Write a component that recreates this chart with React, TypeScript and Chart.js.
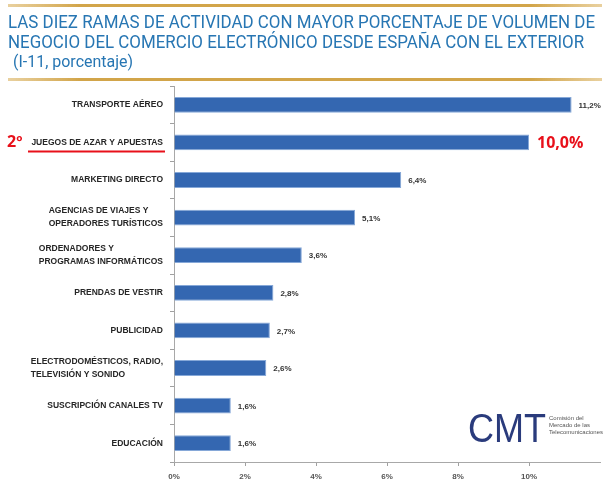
import { useEffect, useRef } from "react";
import { Chart, registerables } from "chart.js";

Chart.register(...registerables);

const titleLines = [
  "LAS DIEZ RAMAS DE ACTIVIDAD CON MAYOR PORCENTAJE DE VOLUMEN DE",
  "NEGOCIO DEL COMERCIO ELECTRÓNICO DESDE ESPAÑA CON EL EXTERIOR",
];
const subtitleText = "(I-11, porcentaje)";

const categories: string[][] = [
  ["TRANSPORTE AÉREO"],
  ["JUEGOS DE AZAR Y APUESTAS"],
  ["MARKETING DIRECTO"],
  ["AGENCIAS DE VIAJES Y", "OPERADORES TURÍSTICOS"],
  ["ORDENADORES Y", "PROGRAMAS INFORMÁTICOS"],
  ["PRENDAS DE VESTIR"],
  ["PUBLICIDAD"],
  ["ELECTRODOMÉSTICOS, RADIO,", "TELEVISIÓN Y SONIDO"],
  ["SUSCRIPCIÓN CANALES TV"],
  ["EDUCACIÓN"],
];
const values = [11.2, 10.0, 6.4, 5.1, 3.6, 2.8, 2.7, 2.6, 1.6, 1.6];
const valueLabels = ["11,2%", "10,0%", "6,4%", "5,1%", "3,6%", "2,8%", "2,7%", "2,6%", "1,6%", "1,6%"];
const highlightIndex = 1;
const highlightRank = "2º";
const xMin = 0;
const xMax = 12;
const xStep = 2;
const logoText = "CMT";
const logoSubLines = ["Comisión del", "Mercado de las", "Telecomunicaciones"];

const LABEL_FONT = "bold 8.5px 'Liberation Sans'";
const VALUE_FONT = "bold 8px 'Liberation Sans'";

const decorPlugin = {
  id: "decor",
  beforeDraw(chart: any) {
    const ctx = chart.ctx as CanvasRenderingContext2D;
    ctx.save();
    const drawRule = (y: number) => {
      const g = ctx.createLinearGradient(8, 0, 602, 0);
      g.addColorStop(0, "rgba(214,170,80,0.55)");
      g.addColorStop(0.12, "#d2a54a");
      g.addColorStop(0.88, "#d2a54a");
      g.addColorStop(1, "rgba(214,170,80,0.55)");
      ctx.fillStyle = g;
      ctx.fillRect(8, y, 594, 3);
    };
    drawRule(4);
    drawRule(78);
    ctx.fillStyle = "#2776b3";
    ctx.textBaseline = "alphabetic";
    ctx.textAlign = "left";
    ctx.font = "18px Roboto";
    const sx = 587 / ctx.measureText(titleLines[0]).width;
    const drawScaled = (t: string, x: number, y: number) => {
      ctx.save();
      ctx.translate(x, y);
      ctx.scale(sx, 1);
      ctx.fillText(t, 0, 0);
      ctx.restore();
    };
    drawScaled(titleLines[0], 8, 28);
    drawScaled(titleLines[1], 8, 48);
    ctx.font = "17px Roboto";
    drawScaled(subtitleText, 13, 67);
    ctx.restore();
  },
  afterDraw(chart: any) {
    const ctx = chart.ctx as CanvasRenderingContext2D;
    const meta = chart.getDatasetMeta(0);
    const yScale = chart.scales.y;
    ctx.save();
    ctx.textBaseline = "middle";
    ctx.textAlign = "left";
    ctx.font = LABEL_FONT;
    ctx.fillStyle = "#262626";
    const right = 163;
    const lh = 13;
    categories.forEach((lines, i) => {
      const cy = yScale.getPixelForValue(i);
      const w = Math.max(...lines.map((l) => ctx.measureText(l).width));
      const x0 = right - w;
      lines.forEach((l, k) => {
        const y = cy + (k - (lines.length - 1) / 2) * lh;
        ctx.fillText(l, x0, y);
      });
    });
    meta.data.forEach((bar: any, i: number) => {
      if (i === highlightIndex) {
        ctx.fillStyle = "#e8101a";
        ctx.font = "bold 16px 'Open Sans'";
        ctx.fillText(valueLabels[i], bar.x + 8, bar.y + 1);
      } else {
        ctx.fillStyle = "#333333";
        ctx.font = VALUE_FONT;
        ctx.fillText(valueLabels[i], bar.x + 7, bar.y + 1);
      }
    });
    const hy = yScale.getPixelForValue(highlightIndex);
    ctx.strokeStyle = "#e8101a";
    ctx.lineWidth = 2;
    ctx.beginPath();
    ctx.moveTo(28, hy + 9);
    ctx.lineTo(165, hy + 9);
    ctx.stroke();
    ctx.fillStyle = "#e8101a";
    ctx.font = "bold 16px 'Open Sans'";
    ctx.fillText(highlightRank, 7, hy);
    ctx.fillStyle = "#2a3b7c";
    ctx.font = "40px 'Liberation Sans'";
    ctx.textBaseline = "alphabetic";
    ctx.fillText(logoText, 468, 442, 78);
    ctx.fillStyle = "#555555";
    ctx.font = "6px 'Liberation Sans'";
    logoSubLines.forEach((t, k) => ctx.fillText(t, 549, 420 + k * 7));
    ctx.restore();
  },
};

export default function App() {
  const ref = useRef<HTMLCanvasElement | null>(null);
  useEffect(() => {
    if (!ref.current) return;
    const chart = new Chart(ref.current, {
      type: "bar",
      data: {
        labels: categories.map((c) => c.join(" ")),
        datasets: [
          {
            data: values,
            backgroundColor: "#3467b1",
            borderColor: "#86a8d8",
            borderWidth: 1,
            barPercentage: 0.42,
            categoryPercentage: 1,
          },
        ],
      },
      options: {
        indexAxis: "y",
        animation: false,
        responsive: false,
        devicePixelRatio: 1,
        layout: { padding: { top: 86, right: 10, left: 0, bottom: 0 } },
        plugins: {
          legend: { display: false },
          tooltip: { enabled: false },
          title: { display: false },
        },
        scales: {
          x: {
            type: "linear",
            min: xMin,
            max: xMax,
            ticks: {
              stepSize: xStep,
              color: "#555555",
              font: { family: "'Liberation Sans'", size: 8, weight: "bold" },
              padding: 6,
              callback: (v: any) => (v >= xMax ? "" : `${v}%`),
            },
            grid: {
              drawOnChartArea: false,
              tickLength: 4,
              color: (c: any) => (c.tick && c.tick.value >= xMax ? "rgba(0,0,0,0)" : "#a0a0a0"),
            },
            border: { display: true, color: "#a8a8a8" },
            afterFit: (s: any) => {
              s.height = 28;
            },
          },
          y: {
            type: "category",
            ticks: {
              callback: () => "",
            },
            grid: { drawOnChartArea: false, offset: true, tickLength: 4, color: "#a0a0a0" },
            border: { display: true, color: "#a8a8a8" },
            afterFit: (s: any) => {
              s.width = 174;
            },
          },
        },
      },
      plugins: [decorPlugin],
    } as any);
    return () => chart.destroy();
  }, []);
  return (
    <div style={{ position: "absolute", left: 0, top: 0, width: 610, height: 490, background: "#ffffff" }}>
      <canvas ref={ref} width={610} height={490} style={{ width: 610, height: 490 }} />
    </div>
  );
}
